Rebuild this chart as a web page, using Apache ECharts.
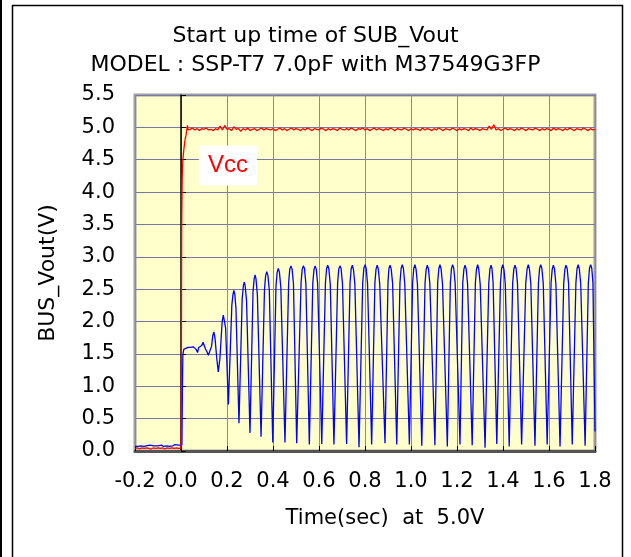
<!DOCTYPE html>
<html>
<head>
<meta charset="utf-8">
<script src="https://cdn.jsdelivr.net/npm/echarts@6/dist/echarts.min.js"></script>
<style>
  html, body { margin: 0; padding: 0; background: #fff; }
  #chart { width: 631px; height: 557px; }
</style>
</head>
<body>
<div id="chart"></div>
<script>
// axis ranges (sec / volt)
const timeRange = [-0.2, 1.8]
const voltRange = [0, 5.5]
const titleLines = ['Start up time of SUB_Vout', 'MODEL : SSP-T7 7.0pF with M37549G3FP']

// BUS_Vout trace, [time, volt]
const blueTrace = [
  [-0.200, 0.07], [-0.192, 0.09], [-0.185, 0.07], [-0.176, 0.08], [-0.168, 0.10], [-0.160, 0.07],
  [-0.151, 0.08], [-0.143, 0.07], [-0.135, 0.09], [-0.127, 0.07], [-0.118, 0.08], [-0.110, 0.10],
  [-0.101, 0.08], [-0.093, 0.07], [-0.085, 0.09], [-0.076, 0.07], [-0.068, 0.10], [-0.060, 0.08],
  [-0.051, 0.07], [-0.043, 0.09], [-0.035, 0.08], [-0.026, 0.10], [-0.018, 0.07], [-0.010, 0.09],
  [-0.003, 0.08], [0.004, 0.09], [0.006, 0.9], [0.008, 1.48], [0.012, 1.57], [0.020, 1.59],
  [0.030, 1.60], [0.039, 1.60], [0.046, 1.63], [0.053, 1.61], [0.061, 1.61], [0.066, 1.57],
  [0.072, 1.52], [0.077, 1.60], [0.083, 1.61], [0.090, 1.63], [0.096, 1.68], [0.101, 1.66],
  [0.106, 1.58], [0.112, 1.54], [0.119, 1.48], [0.126, 1.47], [0.133, 1.62], [0.138, 1.78],
  [0.143, 1.84], [0.148, 1.74], [0.155, 1.45], [0.162, 1.22], [0.169, 1.42],
  [0.179, 2.00], [0.184, 2.10], [0.187, 2.13], [0.190, 2.08], [0.194, 1.90], [0.206, 0.72],
  [0.221, 2.25], [0.226, 2.42], [0.230, 2.48], [0.234, 2.42], [0.239, 2.20], [0.252, 0.43],
  [0.266, 2.35], [0.271, 2.55], [0.275, 2.61], [0.279, 2.55], [0.285, 2.32], [0.300, 0.28],
  [0.313, 2.45], [0.318, 2.66], [0.322, 2.72], [0.326, 2.66], [0.332, 2.42], [0.348, 0.22],
  [0.363, 2.50], [0.368, 2.71], [0.373, 2.77], [0.378, 2.71], [0.384, 2.48], [0.399, 0.13],
  [0.413, 2.55], [0.418, 2.76], [0.423, 2.82], [0.428, 2.76], [0.434, 2.53], [0.452, 0.13],
  [0.468, 2.60], [0.473, 2.81], [0.478, 2.86], [0.483, 2.81], [0.489, 2.58], [0.503, 0.12],
  [0.522, 2.60], [0.527, 2.81], [0.532, 2.86], [0.537, 2.82], [0.543, 2.58], [0.558, 0.10],
  [0.573, 2.59], [0.578, 2.80], [0.583, 2.86], [0.588, 2.81], [0.594, 2.59], [0.612, 0.11],
  [0.628, 2.60], [0.633, 2.82], [0.638, 2.87], [0.643, 2.81], [0.649, 2.58], [0.665, 0.10],
  [0.681, 2.60], [0.686, 2.81], [0.691, 2.86], [0.696, 2.82], [0.702, 2.59], [0.720, 0.11],
  [0.735, 2.60], [0.740, 2.82], [0.745, 2.87], [0.750, 2.80], [0.756, 2.57], [0.774, 0.06],
  [0.790, 2.60], [0.795, 2.82], [0.800, 2.88], [0.805, 2.82], [0.811, 2.59], [0.829, 0.10],
  [0.843, 2.60], [0.848, 2.81], [0.853, 2.87], [0.858, 2.81], [0.864, 2.58], [0.887, 0.12],
  [0.900, 2.61], [0.904, 2.82], [0.909, 2.87], [0.914, 2.81], [0.920, 2.59], [0.938, 0.10],
  [0.952, 2.60], [0.957, 2.82], [0.962, 2.88], [0.967, 2.82], [0.973, 2.58], [0.993, 0.10],
  [1.007, 2.60], [1.012, 2.82], [1.017, 2.88], [1.022, 2.81], [1.028, 2.58], [1.047, 0.08],
  [1.061, 2.59], [1.066, 2.81], [1.071, 2.87], [1.076, 2.81], [1.082, 2.58], [1.104, 0.09],
  [1.116, 2.60], [1.121, 2.82], [1.126, 2.88], [1.131, 2.81], [1.137, 2.58], [1.158, 0.07],
  [1.171, 2.59], [1.176, 2.82], [1.181, 2.88], [1.186, 2.82], [1.192, 2.59], [1.213, 0.10],
  [1.225, 2.60], [1.230, 2.81], [1.235, 2.87], [1.240, 2.81], [1.246, 2.58], [1.266, 0.09],
  [1.280, 2.60], [1.285, 2.82], [1.290, 2.88], [1.295, 2.80], [1.301, 2.57], [1.322, 0.05],
  [1.338, 2.58], [1.343, 2.81], [1.348, 2.87], [1.352, 2.82], [1.357, 2.60], [1.373, 0.11],
  [1.389, 2.60], [1.394, 2.82], [1.399, 2.88], [1.404, 2.81], [1.410, 2.58], [1.427, 0.07],
  [1.442, 2.59], [1.447, 2.81], [1.452, 2.87], [1.457, 2.82], [1.463, 2.59], [1.481, 0.10],
  [1.499, 2.60], [1.505, 2.82], [1.510, 2.88], [1.515, 2.81], [1.521, 2.58], [1.539, 0.08],
  [1.554, 2.59], [1.559, 2.82], [1.564, 2.88], [1.569, 2.82], [1.575, 2.59], [1.592, 0.10],
  [1.609, 2.60], [1.614, 2.81], [1.619, 2.87], [1.624, 2.81], [1.630, 2.58], [1.648, 0.07],
  [1.664, 2.59], [1.669, 2.81], [1.674, 2.87], [1.679, 2.82], [1.685, 2.59], [1.701, 0.10],
  [1.717, 2.60], [1.722, 2.82], [1.727, 2.88], [1.732, 2.81], [1.738, 2.58], [1.757, 0.08],
  [1.771, 2.59], [1.776, 2.82], [1.781, 2.88], [1.786, 2.82], [1.791, 2.60], [1.800, 0.30]
]

// Vcc trace, [time, volt]
const redTrace = [
  [-0.20, 0.04], [-0.19, 0.05], [-0.18, 0.03], [-0.17, 0.05], [-0.16, 0.04], [-0.15, 0.05],
  [-0.14, 0.04], [-0.13, 0.03], [-0.12, 0.05], [-0.11, 0.04], [-0.10, 0.05], [-0.09, 0.04],
  [-0.08, 0.05], [-0.07, 0.03], [-0.06, 0.05], [-0.05, 0.04], [-0.04, 0.05], [-0.03, 0.04],
  [-0.02, 0.05], [-0.01, 0.04], [0.000, 0.04], [0.001, 0.3], [0.002, 2.0], [0.003, 3.4],
  [0.005, 4.2], [0.008, 4.5], [0.013, 4.68], [0.018, 4.82], [0.022, 4.88], [0.025, 4.90],
  [0.028, 5.03], [0.031, 4.96], [0.04, 4.97], [0.05, 4.99], [0.06, 4.96], [0.07, 4.98],
  [0.08, 4.95], [0.09, 4.98], [0.10, 4.97], [0.11, 4.99], [0.12, 4.96], [0.13, 4.97],
  [0.14, 4.95], [0.15, 4.98], [0.16, 4.96], [0.17, 5.02], [0.18, 4.96], [0.19, 5.03],
  [0.20, 4.97], [0.21, 4.98], [0.22, 4.95], [0.23, 5.01], [0.24, 4.97], [0.25, 4.98],
  [0.26, 4.94], [0.27, 4.98], [0.28, 4.96], [0.29, 4.99], [0.30, 4.95], [0.31, 4.97],
  [0.32, 4.98], [0.33, 4.95], [0.34, 4.97], [0.35, 4.99], [0.36, 4.96], [0.37, 4.98],
  [0.38, 4.97], [0.39, 4.96], [0.40, 4.98], [0.41, 4.95], [0.42, 4.97], [0.43, 4.99],
  [0.44, 4.96], [0.45, 4.98], [0.46, 4.95], [0.47, 4.97], [0.48, 4.99], [0.49, 4.96],
  [0.50, 4.98], [0.51, 4.97], [0.52, 4.95], [0.53, 4.98], [0.54, 4.96], [0.55, 4.99],
  [0.56, 4.97], [0.57, 4.95], [0.58, 4.98], [0.59, 4.97], [0.60, 4.96], [0.61, 4.99],
  [0.62, 4.97], [0.63, 4.95], [0.64, 4.98], [0.65, 4.96], [0.66, 4.98], [0.67, 4.97],
  [0.68, 4.95], [0.69, 4.99], [0.70, 4.97], [0.71, 4.96], [0.72, 4.98], [0.73, 4.96],
  [0.74, 4.99], [0.75, 4.97], [0.76, 4.95], [0.77, 4.98], [0.78, 4.97], [0.79, 4.99],
  [0.80, 4.96], [0.81, 4.98], [0.82, 4.95], [0.83, 4.97], [0.84, 4.99], [0.85, 4.96],
  [0.86, 4.98], [0.87, 4.97], [0.88, 4.95], [0.89, 4.98], [0.90, 4.96], [0.91, 4.99],
  [0.92, 4.97], [0.93, 4.95], [0.94, 4.98], [0.95, 4.97], [0.96, 4.96], [0.97, 4.99],
  [0.98, 4.97], [0.99, 4.95], [1.00, 4.98], [1.01, 4.96], [1.02, 4.98], [1.03, 4.97],
  [1.04, 4.95], [1.05, 4.99], [1.06, 4.96], [1.07, 4.98], [1.08, 4.97], [1.09, 4.95],
  [1.10, 4.98], [1.11, 4.96], [1.12, 4.99], [1.13, 4.97], [1.14, 4.95], [1.15, 4.98],
  [1.16, 4.97], [1.17, 4.96], [1.18, 4.99], [1.19, 4.97], [1.20, 4.95], [1.21, 4.98],
  [1.22, 4.96], [1.23, 4.98], [1.24, 4.97], [1.25, 4.95], [1.26, 4.99], [1.27, 4.96],
  [1.28, 4.98], [1.29, 4.97], [1.30, 4.95], [1.31, 4.98], [1.32, 4.97], [1.33, 4.96],
  [1.34, 5.02], [1.35, 4.97], [1.36, 5.04], [1.37, 4.96], [1.38, 4.98], [1.39, 4.95],
  [1.40, 4.97], [1.41, 4.99], [1.42, 4.96], [1.43, 4.98], [1.44, 4.97], [1.45, 4.95],
  [1.46, 4.98], [1.47, 4.96], [1.48, 4.99], [1.49, 4.97], [1.50, 4.95], [1.51, 4.98],
  [1.52, 4.97], [1.53, 4.96], [1.54, 4.99], [1.55, 4.97], [1.56, 4.95], [1.57, 4.98],
  [1.58, 4.96], [1.59, 4.98], [1.60, 4.97], [1.61, 4.95], [1.62, 4.99], [1.63, 4.96],
  [1.64, 4.98], [1.65, 4.97], [1.66, 4.95], [1.67, 4.98], [1.68, 4.96], [1.69, 4.99],
  [1.70, 4.97], [1.71, 4.95], [1.72, 4.98], [1.73, 4.97], [1.74, 4.96], [1.75, 4.99],
  [1.76, 4.97], [1.77, 4.95], [1.78, 4.98], [1.79, 4.96], [1.80, 4.97]
]

const FONT = 'DejaVu Sans'
const chart = echarts.init(document.getElementById('chart'), null, { renderer: 'canvas' })

const option = {
  animation: false,
  backgroundColor: '#fff',
  title: [
    {
      text: titleLines[0], left: 'center', top: 25, padding: 0,
      textStyle: { fontFamily: FONT, fontSize: 22, fontWeight: 'normal', color: '#000' }
    },
    {
      text: titleLines[1], left: 'center', top: 54, padding: 0,
      textStyle: { fontFamily: FONT, fontSize: 22, fontWeight: 'normal', color: '#000' }
    }
  ],
  grid: {
    left: 135, right: 36, top: 95, bottom: 106,
    show: true,
    backgroundColor: '#ffffcc',
    borderColor: '#a0a0a0',
    borderWidth: 3,
    outerBoundsMode: 'none'
  },
  xAxis: {
    type: 'value',
    min: timeRange[0], max: timeRange[1], interval: 0.2,
    name: 'Time(sec)  at  5.0V',
    nameLocation: 'middle',
    nameGap: 57,
    nameTextStyle: { fontFamily: FONT, fontSize: 21, color: '#000', padding: [0, 0, 0, 40] },
    axisLine: { show: true, onZero: false, lineStyle: { color: '#555', width: 3 } },
    axisTick: { show: true, inside: true, length: 5, lineStyle: { color: '#000', width: 1 } },
    axisLabel: {
      fontFamily: FONT, fontSize: 21, color: '#000', margin: 20,
      showMinLabel: true, showMaxLabel: true,
      formatter: (v) => v.toFixed(1)
    },
    splitLine: { show: true, lineStyle: { color: '#8c8c8c', width: 1 } }
  },
  yAxis: [
    {
      type: 'value',
      min: voltRange[0], max: voltRange[1], interval: 0.5,
      position: 'left',
      name: 'BUS_Vout(V)',
      nameLocation: 'middle',
      nameGap: 76,
      nameTextStyle: { fontFamily: FONT, fontSize: 22, color: '#000' },
      axisLine: { show: false, onZero: false },
      axisTick: { show: false },
      axisLabel: {
        fontFamily: FONT, fontSize: 21, color: '#000', margin: 20,
        showMinLabel: true, showMaxLabel: true,
        formatter: (v) => v.toFixed(1)
      },
      splitLine: { show: true, lineStyle: { color: '#7878a8', width: 1 } }
    },
    {
      // the black zero line with its ticks
      type: 'value',
      min: voltRange[0], max: voltRange[1], interval: 0.5,
      position: 'left',
      axisLine: { show: true, onZero: true, lineStyle: { color: '#000', width: 1.5 } },
      axisTick: { show: true, inside: true, length: 5, lineStyle: { color: '#000' } },
      axisLabel: { show: false },
      splitLine: { show: false }
    }
  ],
  series: [
    {
      name: 'BUS_Vout',
      type: 'line',
      data: blueTrace,
      showSymbol: false,
      symbol: 'none',
      lineStyle: { color: '#0000ff', width: 1.3 },
      z: 3
    },
    {
      name: 'Vcc',
      type: 'line',
      data: redTrace,
      showSymbol: false,
      symbol: 'none',
      lineStyle: { color: '#ff0000', width: 1.3 },
      z: 4,
      markPoint: {
        symbol: 'rect',
        symbolSize: [58, 40],
        itemStyle: { color: '#fff' },
        label: {
          show: true, formatter: 'Vcc', color: '#ff0000',
          fontFamily: 'Liberation Sans', fontSize: 24
        },
        data: [{ coord: [0.204, 4.41] }]
      }
    }
  ],
  graphic: [
    {
      type: 'rect',
      shape: { x: 12.5, y: 5.5, width: 610, height: 570 },
      style: { fill: 'none', stroke: '#000', lineWidth: 1.5 },
      silent: true
    },
    {
      type: 'line',
      shape: { x1: 1, y1: 0, x2: 1, y2: 557 },
      style: { stroke: '#000', lineWidth: 2 },
      silent: true
    }
  ]
}

chart.setOption(option)
</script>
</body>
</html>
